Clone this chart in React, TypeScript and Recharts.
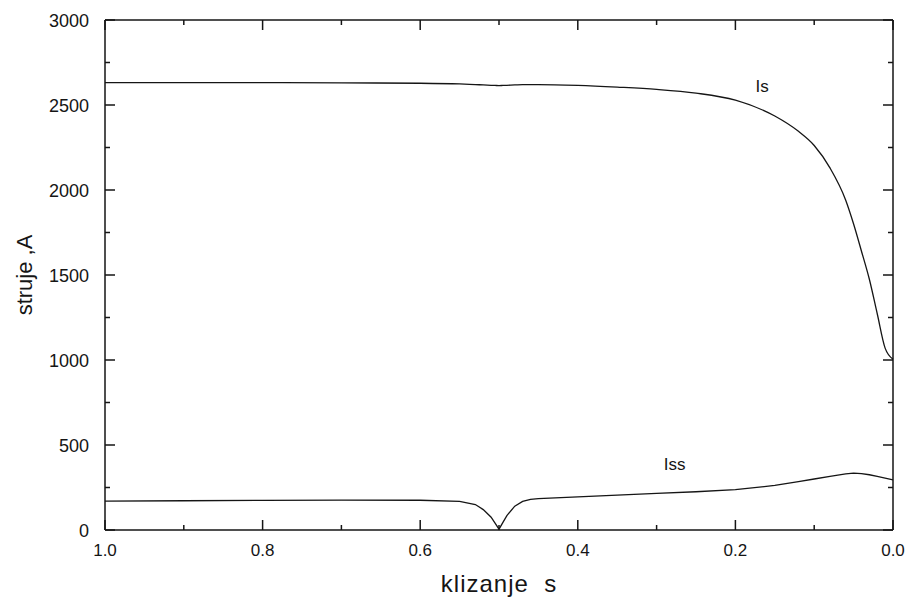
import React from 'react';
import { LineChart, Line, XAxis, YAxis, ReferenceDot } from 'recharts';

// klizanje s (slip), reversed axis 1.0 -> 0.0
const sVals = [1.0, 0.9, 0.8, 0.7, 0.6, 0.55, 0.53, 0.52, 0.51, 0.505, 0.5, 0.495, 0.49, 0.48, 0.47, 0.46, 0.45, 0.4, 0.35, 0.3, 0.25, 0.2, 0.15, 0.12, 0.1, 0.08, 0.06, 0.05, 0.04, 0.03, 0.02, 0.01, 0.0];
const isVals = [2632, 2632, 2632, 2630, 2628, 2624, 2620, 2618, 2616, 2615, 2614, 2615, 2616, 2618, 2620, 2620, 2620, 2615, 2605, 2592, 2570, 2528, 2435, 2345, 2262, 2130, 1940, 1800, 1640, 1475, 1272, 1070, 1005];
const issVals = [170, 172, 174, 176, 175, 168, 150, 120, 75, 40, 5, 45, 85, 140, 168, 180, 185, 195, 205, 215, 225, 238, 262, 285, 300, 316, 330, 334, 332, 325, 315, 305, 295];

const xTicks = [0, 0.1, 0.2, 0.3, 0.4, 0.5, 0.6, 0.7, 0.8, 0.9, 1.0];
const yTicks = [0, 250, 500, 750, 1000, 1250, 1500, 1750, 2000, 2250, 2500, 2750, 3000];

const data = sVals.map((s, i) => ({ s, is: isVals[i], iss: issVals[i] }));

const ink = '#151515';
const font = '"Liberation Sans", Arial, sans-serif';

const isMajorX = (v: number) => Math.round(v * 10) % 2 === 0;
const isMajorY = (v: number) => v % 500 === 0;

const BottomTick = ({ x, y, payload }: any) => {
    const major = isMajorX(payload.value);
    return (
        <g>
            <line x1={x} y1={y} x2={x} y2={y - (major ? 10 : 5)} stroke={ink} strokeWidth={1.5} />
            {major && (
                <text x={x} y={y + 26} textAnchor="middle" fontSize={17} fontFamily={font} fill={ink}>
                    {payload.value.toFixed(1)}
                </text>
            )}
        </g>
    );
};

const TopTick = ({ x, y, payload }: any) => {
    const major = isMajorX(payload.value);
    return <line x1={x} y1={y} x2={x} y2={y + (major ? 10 : 5)} stroke={ink} strokeWidth={1.5} />;
};

const LeftTick = ({ x, y, payload }: any) => {
    const major = isMajorY(payload.value);
    return (
        <g>
            <line x1={x} y1={y} x2={x + (major ? 10 : 5)} y2={y} stroke={ink} strokeWidth={1.5} />
            {major && (
                <text x={x - 16} y={y + 7} textAnchor="end" fontSize={18} fontFamily={font} fill={ink}>
                    {payload.value}
                </text>
            )}
        </g>
    );
};

const RightTick = ({ x, y, payload }: any) => {
    const major = isMajorY(payload.value);
    return <line x1={x} y1={y} x2={x - (major ? 10 : 5)} y2={y} stroke={ink} strokeWidth={1.5} />;
};

const labelStyle = { fontSize: 17, fontFamily: font, fill: ink };

export default function App() {
    return (
        <div style={{ position: 'absolute', left: 0, top: 0, background: '#fff' }}>
            <LineChart width={915} height={598} data={data} margin={{ top: 19, right: 0, bottom: 0, left: 0 }}>
                <XAxis
                    xAxisId="b"
                    dataKey="s"
                    type="number"
                    domain={[0, 1]}
                    reversed
                    ticks={xTicks}
                    interval={0}
                    height={68}
                    tickSize={0}
                    tickMargin={0}
                    tick={<BottomTick />}
                    axisLine={{ stroke: ink, strokeWidth: 1.5 }}
                    label={{ value: 'klizanje\u00A0\u00A0s', position: 'insideBottom', offset: 6, style: { fontSize: 24, letterSpacing: 1, fontFamily: font, fill: ink } }}
                />
                <XAxis
                    xAxisId="t"
                    orientation="top"
                    dataKey="s"
                    type="number"
                    domain={[0, 1]}
                    reversed
                    ticks={xTicks}
                    interval={0}
                    height={1}
                    tickSize={0}
                    tickMargin={0}
                    tick={<TopTick />}
                    axisLine={{ stroke: ink, strokeWidth: 1.5 }}
                />
                <YAxis
                    yAxisId="l"
                    type="number"
                    domain={[0, 3000]}
                    ticks={yTicks}
                    interval={0}
                    width={105}
                    tickSize={0}
                    tickMargin={0}
                    tick={<LeftTick />}
                    axisLine={{ stroke: ink, strokeWidth: 1.5 }}
                    label={{ value: 'struje ,A', angle: -90, position: 'insideLeft', offset: 24, style: { fontSize: 22, fontFamily: font, fill: ink, textAnchor: 'middle' } }}
                />
                <YAxis
                    yAxisId="r"
                    orientation="right"
                    type="number"
                    domain={[0, 3000]}
                    ticks={yTicks}
                    interval={0}
                    width={22}
                    tickSize={0}
                    tickMargin={0}
                    tick={<RightTick />}
                    axisLine={{ stroke: ink, strokeWidth: 1.5 }}
                />
                <Line xAxisId="b" yAxisId="l" dataKey="is" type="monotone" stroke={ink} strokeWidth={1.3} dot={false} isAnimationActive={false} />
                <Line xAxisId="t" yAxisId="r" dataKey="iss" type="linear" stroke={ink} strokeWidth={1.3} dot={false} isAnimationActive={false} />
                <ReferenceDot xAxisId="b" yAxisId="l" x={0.166} y={2612} r={0} fill="none" stroke="none"
                    label={{ value: 'Is', position: 'center', style: labelStyle }} />
                <ReferenceDot xAxisId="b" yAxisId="l" x={0.277} y={388} r={0} fill="none" stroke="none"
                    label={{ value: 'Iss', position: 'center', style: labelStyle }} />
            </LineChart>
        </div>
    );
}
